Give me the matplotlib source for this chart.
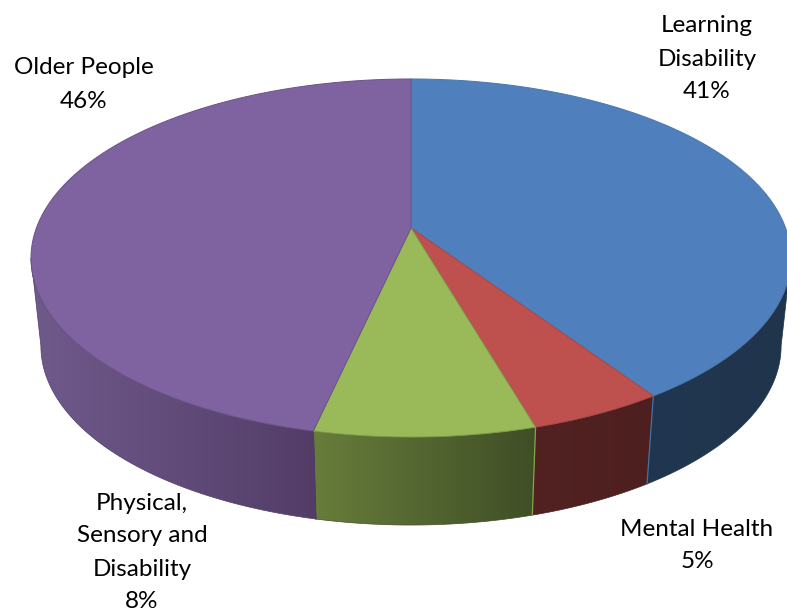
import numpy as np
import matplotlib
matplotlib.use('Agg')
import matplotlib.pyplot as plt
from matplotlib.colors import to_rgb
from matplotlib.patches import Polygon

# slice sizes (clockwise from 12 o'clock)
names = ['Learning\nDisability', 'Mental Health', 'Physical,\nSensory and\nDisability', 'Older People']
shares = [40.6, 4.9, 8.0, 46.5]
shown_pct = ['41%', '5%', '8%', '46%']

top_colors = ['#4F7FBC', '#BE504D', '#9ABA59', '#7F62A0']
edge_colors = ['#4A78AE', '#A8474A', '#7F9A4A', '#6A5488']
seam_colors = ['#4F7FBC', '#4472A8', '#86A648', '#4E3B62']
side_left = ['#203650', '#512221', '#687D3B', '#6F5A8C']
side_right = ['#20344C', '#4D1F1E', '#3F4E26', '#533D67']

label_x = [707, 697, 142, 84]
label_y = [26, 529, 503, 68]
line_gap = 33

# pie geometry in pixels, with a small perspective so the hub sits above the ellipse centre
HUB_X, HUB_Y = 411, 228
RX, RY = 374.6, 174.0
PERSP = 0.1676
DEPTH = 88
BOTTOM_SCALE = 0.974


def top_xy(angle):
    t = np.radians(angle)
    w = 1 + PERSP * np.cos(t)
    return HUB_X + RX * np.sin(t) / w, HUB_Y - RY * np.cos(t) / w


def bottom_xy(angle):
    x, y = top_xy(angle)
    return HUB_X + BOTTOM_SCALE * (x - HUB_X), y + DEPTH


def draw_side(ax, start, end, c_left, c_right, seam):
    # only the front part of the rim can be seen
    turn = np.degrees(np.arcsin(PERSP))
    a0, a1 = max(start, 90 + turn), min(end, 270 - turn)
    if a1 <= a0:
        return
    angles = np.linspace(a0, a1, 200)
    tx, ty = top_xy(angles)
    bx, by = bottom_xy(angles)
    pts = np.vstack([np.column_stack([tx, ty]), np.column_stack([bx, by])[::-1]])

    ramp = np.linspace(to_rgb(c_left), to_rgb(c_right), 256)
    img = ax.imshow(ramp[np.newaxis, :, :], extent=(pts[:, 0].min(), pts[:, 0].max(), pts[:, 1].max(), pts[:, 1].min()),
                    aspect='auto', interpolation='bilinear', zorder=1)
    img.set_clip_path(Polygon(pts, closed=True, transform=ax.transData))
    ax.fill(pts[:, 0], pts[:, 1], fill=False, edgecolor=c_right, linewidth=0.5, zorder=1)

    # thin seam down the slice boundary
    if start >= 90 + turn:
        ax.plot([top_xy(start)[0], bottom_xy(start)[0]], [top_xy(start)[1], bottom_xy(start)[1]],
                color=seam, linewidth=0.9, zorder=2)


fig = plt.figure(figsize=(7.87, 6.12), dpi=100)
ax = fig.add_axes([0, 0, 1, 1])
ax.axis('off')

stops = np.cumsum([0] + shares) / sum(shares) * 360

# sides first, the top faces hide anything behind them
for i in range(len(shares)):
    draw_side(ax, stops[i], stops[i + 1], side_left[i], side_right[i], seam_colors[i])

for i in range(len(shares)):
    angles = np.linspace(stops[i], stops[i + 1], 300)
    x, y = top_xy(angles)
    ax.fill(np.r_[HUB_X, x], np.r_[HUB_Y, y], facecolor=top_colors[i], edgecolor=edge_colors[i],
            linewidth=0.7, joinstyle='round', zorder=3)

ax.set_xlim(0, 787)
ax.set_ylim(612, 0)

for i in range(len(names)):
    lines = names[i].split('\n') + [shown_pct[i]]
    for j, line in enumerate(lines):
        ax.text(label_x[i], label_y[i] + j * line_gap, line, family='Lato', fontsize=17.5,
                ha='center', va='center', color='black', zorder=5, clip_on=False)

fig.savefig('out.png', dpi=100)
